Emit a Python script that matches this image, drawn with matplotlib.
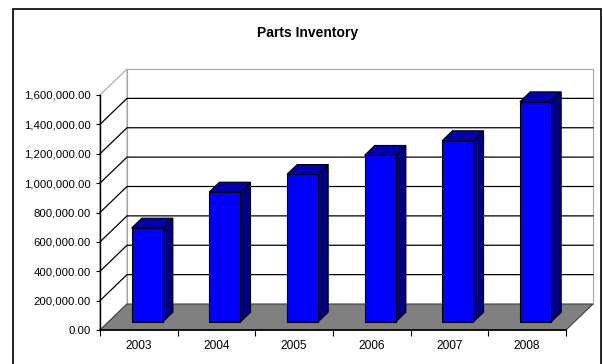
import matplotlib
matplotlib.use("Agg")
import matplotlib.pyplot as plt
from matplotlib.patches import Polygon, Rectangle

plt.rcParams['font.family'] = ['Liberation Sans', 'DejaVu Sans']

years = ['2003', '2004', '2005', '2006', '2007', '2008']
inventory = [640000, 885000, 1005000, 1135000, 1235000, 1500000]
y_ticks = [0, 200000, 400000, 600000, 800000, 1000000, 1200000, 1400000, 1600000]
y_max = 1600000

W, H = 603, 364
fig = plt.figure(figsize=(W / 100, H / 100), dpi=100)
ax = fig.add_axes([100 / W, 34 / H, 466 / W, 235 / H])
ax.set_xlim(0, len(years))
ax.set_ylim(0, y_max)

# depth of the 3d box in pixels
DX, DY = 27, 26
ppx = ax.bbox.width / len(years)
ppy = ax.bbox.height / y_max


def back(x, y, d):
    # push a point d (0..1) of the way into the depth
    return (x + d * DX / ppx, y + d * DY / ppy)


def poly(pts, fc, ec, lw=0.8, z=1):
    ax.add_patch(Polygon(pts, closed=True, facecolor=fc, edgecolor=ec,
                         linewidth=lw, zorder=z, clip_on=False))


n = len(years)
wall_ec = '#a6a6a6'

# back wall
poly([back(0, 0, 1), back(n, 0, 1), back(n, y_max, 1), back(0, y_max, 1)],
     'white', wall_ec, z=0.5)
# side wall
poly([(0, 0), (0, y_max), back(0, y_max, 1), back(0, 0, 1)], 'white', wall_ec, z=0.5)

# gridlines on walls
for v in y_ticks[1:-1]:
    p0 = (0, v)
    p1 = back(0, v, 1)
    p2 = back(n, v, 1)
    ax.plot([p0[0], p1[0], p2[0]], [p0[1], p1[1], p2[1]], color='black',
            lw=0.9, zorder=0.6, clip_on=False)

# floor
poly([(0, 0), (n, 0), back(n, 0, 1), back(0, 0, 1)], '#808080', '#404040', z=0.7)

# bars
f0, f1 = 8.3 / DX, 18.5 / DX
for i, v in enumerate(inventory):
    x0, x1 = i + 0.3, i + 0.7
    poly([back(x1, 0, f0), back(x1, v, f0), back(x1, v, f1), back(x1, 0, f1)],
         '#000080', 'black', z=2)
    poly([back(x0, v, f0), back(x1, v, f0), back(x1, v, f1), back(x0, v, f1)],
         '#0000B0', 'black', z=2)
    poly([back(x0, 0, f0), back(x1, 0, f0), back(x1, v, f0), back(x0, v, f0)],
         '#0000FF', 'black', z=2)

# front axes
for s in ['top', 'right']:
    ax.spines[s].set_visible(False)
ax.spines['left'].set_linewidth(1)
ax.spines['bottom'].set_linewidth(1.2)
ax.spines['left'].set_zorder(3)
ax.spines['bottom'].set_zorder(3)
ax.patch.set_visible(False)

ax.set_yticks(y_ticks)
ax.set_yticklabels([f'{v:,.2f}' for v in y_ticks])
ax.tick_params(axis='y', length=3, width=0.8, pad=3.5, labelsize=8.2)

ax.set_xticks(range(n + 1))
ax.set_xticklabels([''] * (n + 1))
ax.set_xticks([i + 0.5 for i in range(n)], minor=True)
ax.set_xticklabels(years, minor=True)
ax.tick_params(axis='x', which='major', length=4, width=0.8)
ax.tick_params(axis='x', which='minor', length=0, pad=7, labelsize=8.6)

fig.text(308 / W, 1 - 33 / H, 'Parts Inventory', ha='center', va='center',
         fontsize=10, fontweight='bold')

# outer chart frame
fig.add_artist(Rectangle((13 / W, -0.05), 588 / W, 1.05 - 9 / H,
                         transform=fig.transFigure, fill=False,
                         edgecolor='black', linewidth=1.2))

fig.savefig('out.png', dpi=100)
